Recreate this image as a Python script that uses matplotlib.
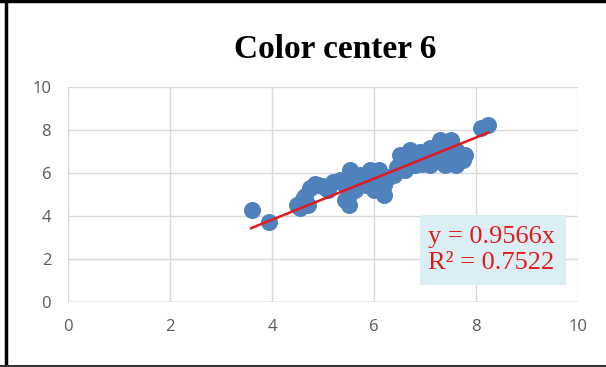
import matplotlib.pyplot as plt
from matplotlib.lines import Line2D
from matplotlib.patches import Rectangle

x_vals = [3.60, 3.94, 4.49, 4.55, 4.65, 4.70, 4.75, 4.84, 4.90, 4.98, 5.05, 5.10,
          5.33, 5.40, 5.43, 5.43, 5.50, 5.50, 5.53, 5.60, 5.63, 5.70, 5.73, 5.80,
          5.85, 5.92, 6.00, 6.05, 6.10, 6.15, 6.20, 6.20, 6.30, 6.40, 6.45, 6.50,
          6.50, 6.55, 6.60, 6.65, 6.70, 6.75, 6.80, 6.85, 6.90, 6.90, 6.95, 7.00,
          7.05, 7.10, 7.10, 7.15, 7.20, 7.25, 7.30, 7.30, 7.35, 7.40, 7.45, 7.50,
          7.50, 7.55, 7.60, 7.60, 7.70, 7.75, 7.78, 8.10, 8.24, 4.60, 5.20, 5.95]
y_vals = [4.28, 3.72, 4.50, 4.37, 4.93, 4.50, 5.30, 5.50, 5.45, 5.40, 5.30, 5.20,
          5.67, 5.55, 4.74, 5.44, 4.50, 5.00, 6.14, 5.70, 5.20, 5.50, 5.90, 5.67,
          5.45, 6.14, 5.20, 5.70, 6.14, 5.90, 5.44, 4.98, 5.80, 5.90, 6.30, 6.84,
          6.37, 6.60, 6.14, 6.80, 7.07, 6.50, 6.37, 6.80, 6.98, 6.60, 6.40, 6.90,
          6.70, 7.16, 6.37, 6.85, 6.60, 7.00, 7.53, 6.84, 7.20, 6.37, 7.30, 7.53,
          6.60, 7.00, 7.07, 6.37, 6.84, 6.60, 6.84, 8.10, 8.24, 4.80, 5.60, 5.60]
slope = 0.9566
r2 = 0.7522
fit_x = [3.59, 8.24]
fit_y = [slope * v for v in fit_x]

fig = plt.figure(figsize=(6.06, 3.67), dpi=100)
ax = fig.add_axes([0.112, 0.177, 0.842, 0.586])

ax.scatter(x_vals, y_vals, s=150, color='#4f81bd', zorder=3, linewidths=0)
ax.plot(fit_x, fit_y, color='#e3191c', linewidth=1.8, zorder=4)

ax.set_xlim(0, 10)
ax.set_ylim(0, 10)
ax.set_xticks(range(0, 11, 2))
ax.set_yticks(range(0, 11, 2))
ax.grid(True, color='#d9d9d9', linewidth=1)
ax.set_axisbelow(True)
for s in ax.spines.values():
    s.set_visible(False)
ax.tick_params(length=0, labelsize=12, labelcolor='#595959', pad=12)
for lab in ax.get_xticklabels() + ax.get_yticklabels():
    lab.set_family('Open Sans')
ax.axhline(0, color='#bfbfbf', linewidth=1, zorder=1)

# trendline label box
ax.add_patch(Rectangle((6.9, 0.79), 2.86, 3.26, facecolor='#daeef3', edgecolor='none', zorder=5))
ax.text(7.06, 2.42, 'y = 0.9566x\nR² = 0.7522', fontsize=19, color='#e3191c',
        family='Liberation Serif', va='center', ha='left', linespacing=1.2, zorder=6)

fig.text(0.553, 0.865, 'Color center 6', fontsize=24, fontweight='bold',
         family='Liberation Serif', ha='center', va='center')

# black frame lines around the chart
fig.add_artist(Line2D([0.01, 0.01], [0, 1], color='black', linewidth=2.5, transform=fig.transFigure))
fig.add_artist(Line2D([0, 1], [0.996, 0.996], color='black', linewidth=2.5, transform=fig.transFigure))
fig.add_artist(Line2D([0, 1], [0.004, 0.004], color='#333333', linewidth=1.5, transform=fig.transFigure))

fig.savefig('out.png', dpi=100)
